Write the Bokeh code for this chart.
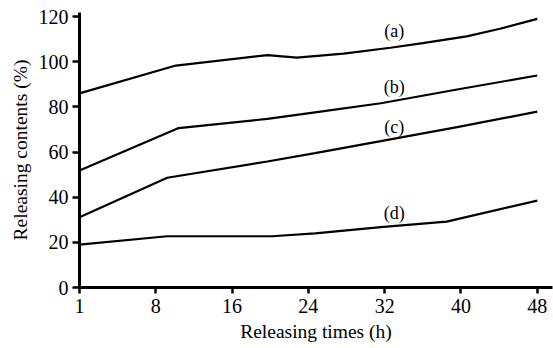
from bokeh.plotting import figure
from bokeh.models import Range1d, FixedTicker, Label
from bokeh.embed import file_html
from bokeh.resources import INLINE

# Data (x in hours on the axis scale; first tick "1" sits at axis origin)
x_a = [0, 10.1, 19.7, 22.8, 27.7, 32.6, 36.0, 40.6, 44.1, 48]
y_a = [86, 98.3, 102.9, 101.8, 103.6, 106.2, 108.2, 111.2, 114.6, 119]
x_b = [0, 10.4, 19.7, 24.7, 31.6, 39.6, 48]
y_b = [51.8, 70.6, 74.7, 77.6, 81.6, 87.7, 93.9]
x_c = [0, 9.2, 19.7, 24.7, 31.6, 39.6, 48]
y_c = [31.1, 48.6, 55.8, 59.5, 64.8, 71.0, 77.9]
x_d = [0, 9.2, 20.2, 24.7, 31.6, 38.5, 48]
y_d = [19.0, 22.7, 22.7, 24.0, 26.7, 29.2, 38.5]

labels = ["(a)", "(b)", "(c)", "(d)"]
label_x = [33, 33, 33, 33]
label_y = [113.8, 88.6, 70.9, 33.2]

x_ticks = [0, 8, 16, 24, 32, 40, 48]
x_tick_labels = ["1", "8", "16", "24", "32", "40", "48"]
y_ticks = [0, 20, 40, 60, 80, 100, 120]

FONT = "Liberation Serif"

p = figure(width=553, height=348, output_backend="svg", toolbar_location=None,
           x_range=Range1d(0, 49.6), y_range=Range1d(0, 121.8),
           min_border_left=79, min_border_right=1, min_border_top=12, min_border_bottom=61)
p.outline_line_color = None
p.grid.visible = False
p.background_fill_color = "white"
p.border_fill_color = "white"

for xs, ys in [(x_a, y_a), (x_b, y_b), (x_c, y_c), (x_d, y_d)]:
    p.line(xs, ys, line_color="black", line_width=2.2)

for t, lx, ly in zip(labels, label_x, label_y):
    p.add_layout(Label(x=lx, y=ly, text=t, text_font=FONT, text_font_size="18px",
                       text_align="center", text_baseline="middle", text_color="black"))

p.xaxis.ticker = FixedTicker(ticks=x_ticks)
p.xaxis.major_label_overrides = {t: l for t, l in zip(x_ticks, x_tick_labels)}
p.yaxis.ticker = FixedTicker(ticks=y_ticks)

for ax in (p.xaxis[0], p.yaxis[0]):
    ax.axis_line_width = 3
    ax.axis_line_color = "black"
    ax.major_tick_line_width = 2.5
    ax.major_tick_line_color = "black"
    ax.major_tick_out = 7
    ax.major_tick_in = 0
    ax.minor_tick_line_color = None
    ax.major_label_text_font = FONT
    ax.major_label_text_font_size = "20px"
    ax.major_label_text_color = "black"
    ax.axis_label_text_font = FONT
    ax.axis_label_text_font_size = "19.5px"
    ax.axis_label_text_font_style = "normal"
    ax.axis_label_text_color = "black"

p.xaxis.axis_label = "Releasing times (h)"
p.yaxis.axis_label = "Releasing contents (%)"
p.xaxis.major_tick_out = 6
p.xaxis.major_label_standoff = 5
p.yaxis.major_label_standoff = 4
p.xaxis.axis_label_standoff = 5
p.yaxis.axis_label_standoff = 5

open("out.html", "w").write(file_html(p, INLINE))
